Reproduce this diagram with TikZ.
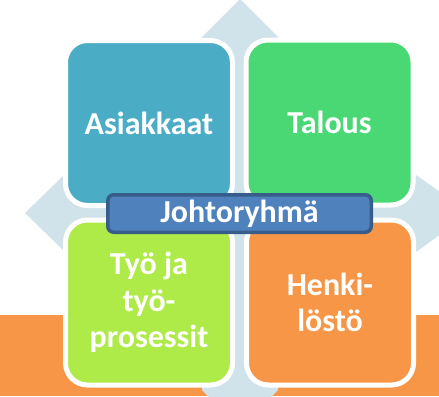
\documentclass[tikz,border=0pt]{standalone}
\usepackage{fontspec}
\setmainfont{Carlito}
\definecolor{cTeal}{HTML}{4BACC6}
\definecolor{cGreen}{HTML}{4AD874}
\definecolor{cLime}{HTML}{AEEA48}
\definecolor{cOrange}{HTML}{F79646}
\definecolor{cArrow}{HTML}{D0E2EA}
\definecolor{cBarFill}{HTML}{4F81BD}
\definecolor{cBarLine}{HTML}{385D8A}
\tikzset{
  quad/.style={draw=white, line width=5bp, rounded corners=22bp,
    minimum width=167bp, minimum height=165bp, inner sep=0pt, outer sep=0pt,
    text=white, align=center,
    font=\bfseries\fontsize{32bp}{36.5bp}\selectfont},
  bar/.style={draw=cBarLine, fill=cBarFill, line width=3.5bp, rounded corners=6bp,
    minimum width=263.5bp, minimum height=37.5bp, inner sep=0pt, outer sep=0pt,
    text=white, font=\bfseries\fontsize{32bp}{36.5bp}\selectfont}
}
\begin{document}
\begin{tikzpicture}[x=1bp,y=-1bp]
\useasboundingbox (0,0) rectangle (439,396);
\begin{scope}
\clip (0,0) rectangle (439,396);
% orange band
\fill[cOrange] (0,315) rectangle (439,396);
% quad arrow background
\fill[cArrow] (240,-1) -- (278,37) -- (278,176) -- (416,176) -- (416,175)
  -- (470,213) -- (416,252) -- (278,252) -- (278,390) -- (240,428)
  -- (202,390) -- (202,250) -- (63,250) -- (25,213) -- (63,176)
  -- (202,176) -- (202,37) -- cycle;
\end{scope}
% quadrants
\node[quad, fill=cTeal]   (asiakkaat) at (149,123)   {Asiakkaat};
\node[quad, fill=cGreen]  (talous)    at (329.5,122.5) {Talous};
\node[quad, fill=cLime]   (tyo)       at (149,302.5) {Työ ja\\työ-\\prosessit};
\node[quad, fill=cOrange] (henki)     at (330,302.5) {Henki-\\löstö};
% central bar
\node[bar] (johto) at (239.5,213.5) {Johtoryhmä};
\end{tikzpicture}
\end{document}
